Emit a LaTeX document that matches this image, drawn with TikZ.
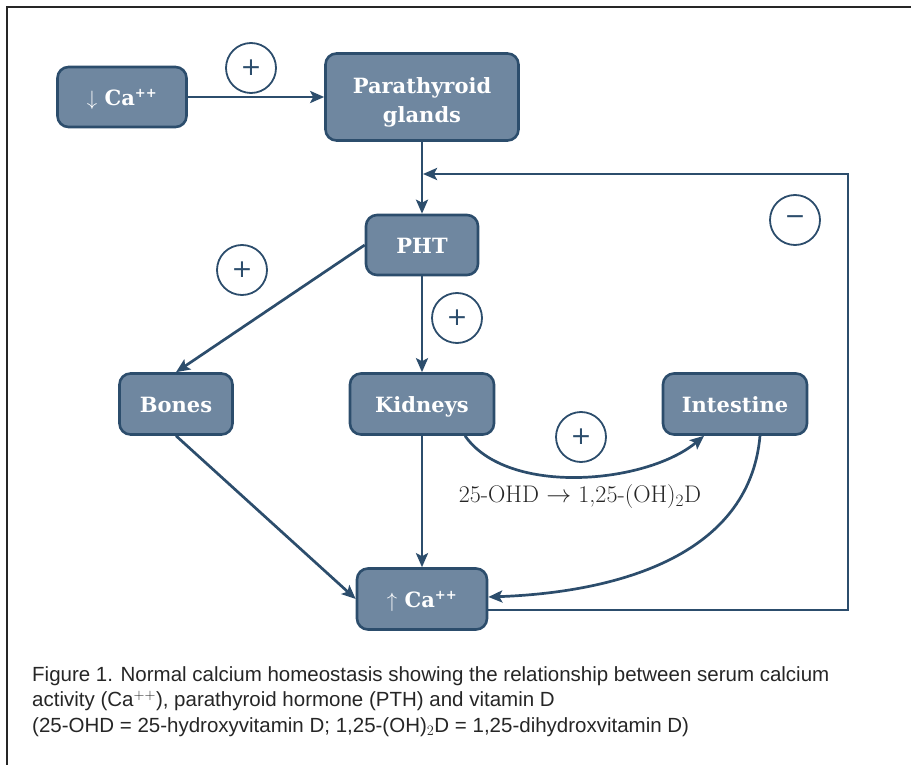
\documentclass[tikz,border=0pt]{standalone}
\usepackage{fontspec}
\usetikzlibrary{arrows.meta}
\newfontfamily\boxfont{DejaVu Serif}
\newfontfamily\signfont{DejaVu Sans}
\newfontfamily\capfont{Liberation Sans}
\definecolor{boxfill}{HTML}{6F87A0}
\definecolor{boxline}{HTML}{2C4D6C}
\tikzset{
  organ/.style={draw=boxline, fill=boxfill, line width=2.6pt, rounded corners=11pt,
    text=white, font=\boxfont\bfseries\fontsize{21}{29}\selectfont, align=center, inner sep=0pt},
  oneline/.style={organ, text height=18pt, text depth=1pt},
  sign/.style={draw=boxline, circle, line width=1.8pt, minimum size=50pt, inner sep=0pt,
    text=boxline, font=\signfont\fontsize{25}{25}\selectfont},
  arr/.style={draw=boxline, line width=2.7pt, -{Stealth[length=14pt,width=12pt,inset=3pt]}}
}
\begin{document}
\begin{tikzpicture}[x=1pt,y=-1pt]
   \useasboundingbox (0,0) rectangle (911,765);
   \draw[line width=1.5pt, black!85] (7,765) -- (7,7) -- (911,7);

   \node[oneline, minimum width=129pt, minimum height=60pt] (lowca) at (122,97) {$\downarrow$ Ca$^{\mbox{\fontsize{13}{13}\selectfont ++}}$};
   \node[organ, minimum width=193pt, minimum height=87pt] (para) at (422,97) {\rule{0pt}{26pt}Parathyroid\\glands};
   \node[oneline, minimum width=112pt, minimum height=60pt] (pht) at (422,245) {PHT};
   \node[oneline, minimum width=113pt, minimum height=61pt] (bones) at (176,404) {Bones};
   \node[oneline, minimum width=144pt, minimum height=61pt] (kid) at (422,404) {Kidneys};
   \node[oneline, minimum width=144pt, minimum height=61pt] (int) at (735,404) {Intestine};
   \node[oneline, minimum width=130pt, minimum height=61pt] (highca) at (422,599) {$\uparrow$ Ca$^{\mbox{\fontsize{13}{13}\selectfont ++}}$};

   \node[sign] (s1) at (251,68) {+};
   \node[sign] (s2) at (242,270) {+};
   \node[sign] (s3) at (457,318) {+};
   \node[sign] (s4) at (581,437) {+};
   \node[sign] (s5) at (795,220) {−};

   \node[font=\fontsize{24}{24}\selectfont, text=black!85] (conv) at (580,497) {25-OHD $\rightarrow$ 1,25-(OH)$_2$D};

   \coordinate (fb) at (848,174);

   \draw[arr] (lowca) -- (para);
   \draw[arr] (para) -- (pht);
   \draw[arr] (pht.west) -- (bones.north);
   \draw[arr] (pht) -- (kid);
   \draw[arr] (kid) -- (highca);
   \draw[arr] (bones.south) -- (highca.west);
   \draw[arr] ([xshift=43pt]kid.south) to[out=-55,in=-140,looseness=0.8] ([xshift=-31pt]int.south);
   \draw[arr] ([xshift=25pt]int.south) to[out=-95,in=2] ([yshift=2pt]highca.east);
   \draw[arr, shorten >=1pt] ([yshift=-11pt]highca.east) -| (fb) -- (fb -| para.south);

   \node[anchor=north west, align=left, font=\capfont\fontsize{20.5}{25.5}\selectfont, text=black!85, inner sep=0pt] (cap) at (32,666)
     {Figure 1. Normal calcium homeostasis showing the relationship between serum calcium\\
      activity (Ca$^{++}$), parathyroid hormone (PTH) and vitamin D\\
      (25-OHD = 25-hydroxyvitamin D; 1,25-(OH)$_2$D = 1,25-dihydroxvitamin D)};
\end{tikzpicture}
\end{document}
